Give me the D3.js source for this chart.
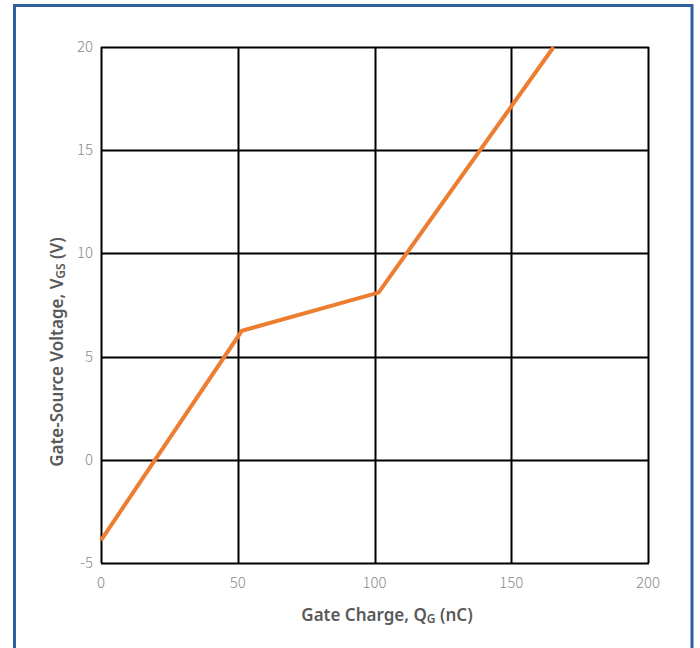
<!DOCTYPE html>
<html>
<head>
<meta charset="utf-8">
<script src="https://cdn.jsdelivr.net/npm/d3@7"></script>
<style>
html,body{margin:0;padding:0;background:#fff;}
svg{display:block;}
</style>
</head>
<body>
<svg id="chart" width="700" height="648"></svg>
<script>
const qg = [0, 51.5, 101.5, 165.5];
const vgs = [-3.9, 6.25, 8.1, 20];
const xTicks = [0, 50, 100, 150, 200];
const yTicks = [-5, 0, 5, 10, 15, 20];

const svg = d3.select("#chart");
const W = 700, H = 648;
const m = {left: 101, right: 52, top: 47, bottom: 85};
const pw = W - m.left - m.right, ph = H - m.top - m.bottom;

// outer frame
svg.append("rect").attr("x", 14.5).attr("y", 5.5).attr("width", 677.5).attr("height", 660)
  .attr("fill", "none").attr("stroke", "#2f5f9f").attr("stroke-width", 3);

const x = d3.scaleLinear().domain([0, 200]).range([m.left, m.left + pw]);
const y = d3.scaleLinear().domain([-5, 20]).range([m.top + ph, m.top]);

const g = svg.append("g");
// grid
g.selectAll(".vg").data(xTicks).enter().append("line")
  .attr("x1", d => Math.round(x(d)) + 0.5).attr("x2", d => Math.round(x(d)) + 0.5)
  .attr("y1", y(-5)).attr("y2", y(20))
  .attr("stroke", "#000").attr("stroke-width", 2);
g.selectAll(".hg").data(yTicks).enter().append("line")
  .attr("y1", d => Math.round(y(d)) + 0.5).attr("y2", d => Math.round(y(d)) + 0.5)
  .attr("x1", x(0)).attr("x2", x(200) + 1)
  .attr("stroke", "#000").attr("stroke-width", 2);

// tick labels
const tickFont = "'Noto Sans CJK JP', 'Noto Sans', sans-serif";
g.selectAll(".xt").data(xTicks).enter().append("text")
  .attr("x", d => x(d)).attr("y", y(-5) + 25)
  .attr("text-anchor", "middle").attr("font-family", tickFont).attr("font-weight", 300)
  .attr("font-size", 15).attr("fill", "#8a8a8a").text(d => d);
g.selectAll(".yt").data(yTicks).enter().append("text")
  .attr("x", x(0) - 8).attr("y", d => y(d) + 5)
  .attr("text-anchor", "end").attr("font-family", tickFont).attr("font-weight", 300)
  .attr("font-size", 15).attr("fill", "#8a8a8a").text(d => d);

// line
const pts = qg.map((q, i) => [q, vgs[i]]);
svg.append("path").datum(pts)
  .attr("d", d3.line().x(d => x(d[0])).y(d => y(d[1])))
  .attr("fill", "none").attr("stroke", "#ed7d31").attr("stroke-width", 4)
  .attr("stroke-linejoin", "miter");

// axis titles
const titleFont = "'Noto Sans', 'Open Sans', sans-serif";
const xt = svg.append("text").attr("x", 387).attr("y", 621)
  .attr("text-anchor", "middle").attr("font-family", titleFont).attr("font-weight", 600)
  .attr("font-size", 17).attr("fill", "#595959");
xt.append("tspan").text("Gate Charge, Q");
xt.append("tspan").attr("font-size", 12).attr("dy", 2).text("G");
xt.append("tspan").attr("dy", -2).text(" (nC)");

const yt = svg.append("text").attr("transform", "translate(63,352) rotate(-90)")
  .attr("text-anchor", "middle").attr("font-family", titleFont).attr("font-weight", 600)
  .attr("font-size", 17).attr("fill", "#595959");
yt.append("tspan").text("Gate-Source Voltage, V");
yt.append("tspan").attr("font-size", 12).attr("dy", 2).text("GS");
yt.append("tspan").attr("dy", -2).text(" (V)");
</script>
</body>
</html>
